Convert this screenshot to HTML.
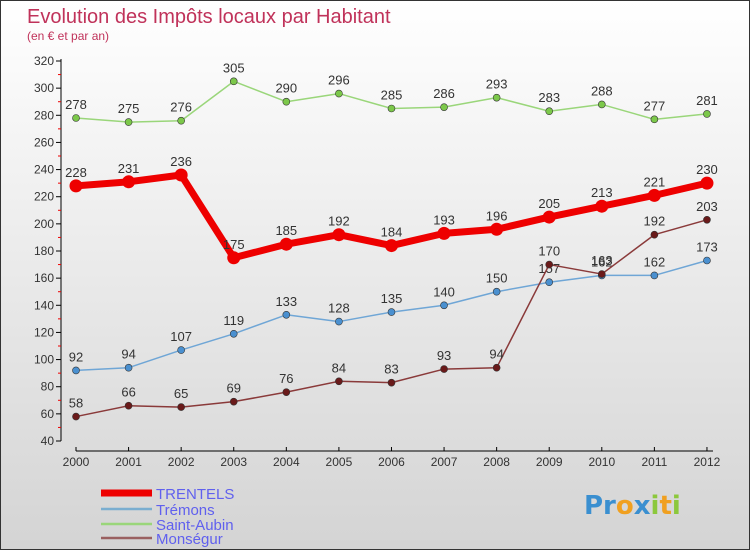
<!DOCTYPE html>
<html><head><meta charset="utf-8"><style>
body{margin:0}
#c{width:750px;height:550px;position:relative;box-sizing:border-box;border:1px solid #333;background:linear-gradient(#fff,#d4d4d4);font-family:"Liberation Sans",sans-serif;overflow:hidden}
svg text{font-family:"Liberation Sans",sans-serif}
</style></head><body>
<div id="c">
<svg id="s" width="750" height="550">
<text x="26" y="22" font-size="20" fill="#c0325a">Evolution des Impôts locaux par Habitant</text>
<text x="26" y="39" font-size="12" fill="#c0325a">(en € et par an)</text>
</svg>
<div style="position:absolute;left:583px;top:490px;font:bold 26px 'DejaVu Sans',sans-serif;letter-spacing:0px"><span style="color:#3a8fd0">Pr</span><span style="color:#f0a020">o</span><span style="color:#3a8fd0">x</span><span style="color:#8cc83c">i</span><span style="color:#f0a020">t</span><span style="color:#8cc83c">i</span></div>
</div>
<script>
const years=[2000,2001,2002,2003,2004,2005,2006,2007,2008,2009,2010,2011,2012];
const yTicks=[40,60,80,100,120,140,160,180,200,220,240,260,280,300,320];
const trentels=[228,231,236,175,185,192,184,193,196,205,213,221,230];
const tremons=[92,94,107,119,133,128,135,140,150,157,162,162,173];
const saintAubin=[278,275,276,305,290,296,285,286,293,283,288,277,281];
const monsegur=[58,66,65,69,76,84,83,93,94,170,163,192,203];
const NS="http://www.w3.org/2000/svg",svg=document.getElementById('s');
const X=i=>75+i*52.58, Y=v=>440-(v-40)*380/280;
function el(t,a,p){const e=document.createElementNS(NS,t);for(const k in a)e.setAttribute(k,a[k]);(p||svg).appendChild(e);return e;}
el('line',{x1:60,y1:58,x2:60,y2:440,stroke:'#000'});
yTicks.forEach(v=>{
 const t=el('line',{x1:55,y1:Y(v),x2:60,y2:Y(v),stroke:'#000'});
 
 if(v<320){el('line',{x1:57,y1:Y(v+10),x2:60,y2:Y(v+10),stroke:'#e00'});}
 const l=el('text',{x:53,y:Y(v)+4,'font-size':12,fill:'#333','text-anchor':'end'});l.textContent=v;
 
});
el('line',{x1:75,y1:450,x2:712,y2:450,stroke:'#000'});
years.forEach((y,i)=>{
 el('line',{x1:X(i),y1:446,x2:X(i),y2:450,stroke:'#000'});
 const l=el('text',{x:X(i),y:465,'font-size':12,fill:'#333','text-anchor':'middle'});l.textContent=y;
 
});
function series(d,col,w,r,dot,name){
 const g=el('g',{});
 el('polyline',{points:d.map((v,i)=>X(i)+','+Y(v)).join(' '),fill:'none',stroke:col,'stroke-width':w,'stroke-linejoin':'round'},g);
 d.forEach((v,i)=>{
  const c=el('circle',{cx:X(i),cy:Y(v),r:r,fill:dot,stroke:'#333','stroke-width':r>4?0:0.6},g);
  
  const t=el('text',{x:X(i),y:Y(v)-9,'font-size':13,fill:'#333','text-anchor':'middle'},g);t.textContent=v;
  
 });
}
series(saintAubin,'#9ad67a',1.5,3.5,'#7cc84a','saint-aubin');
series(tremons,'#6fa6d6',1.5,3.5,'#4a90d0','tremons');
series(monsegur,'#8a3a3a',1.5,3.5,'#6a1a1a','monsegur');
series(trentels,'#ee0000',7,6.5,'#ee0000','trentels');
const legend=[['TRENTELS','#ee0000',7],['Trémons','#7aaed0',2.5],['Saint-Aubin','#9ad67a',2.5],['Monségur','#9a6060',2.5]];
legend.forEach((l,i)=>{
 const y=[492,508,523,537][i];
 const g=el('g',{});
 el('line',{x1:100,y1:y,x2:151,y2:y,stroke:l[1],'stroke-width':l[2]},g);
 const t=el('text',{x:155,y:y+6,'font-size':15,fill:'#6060ee'},g);t.textContent=l[0];
});
</script>
</body></html>
